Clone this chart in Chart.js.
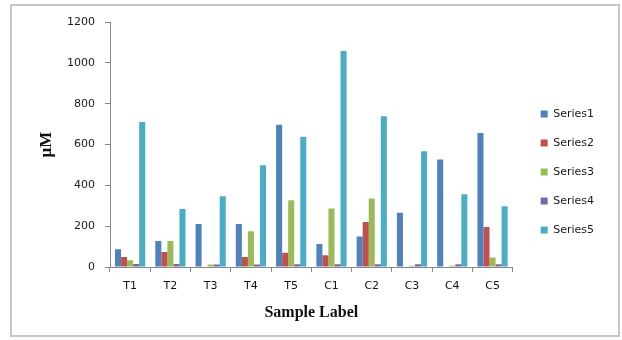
<!DOCTYPE html>
<html>
<head>
<meta charset="utf-8">
<script src="https://cdn.jsdelivr.net/npm/chart.js@4.4.1/dist/chart.umd.min.js"></script>
<style>
  html, body { margin: 0; padding: 0; background: #fff; }
  #wrap { position: relative; width: 622px; height: 340px; }
  #frame { position: absolute; left: 10px; top: 4px; width: 606px; height: 329px;
           border: 2px solid #c6c6c6; pointer-events: none; }
  canvas { position: absolute; left: 0; top: 0; }
</style>
</head>
<body>
<div id="wrap">
  <div id="frame"></div>
  <canvas id="c" width="622" height="340"></canvas>
</div>
<script>
const categories = ['T1', 'T2', 'T3', 'T4', 'T5', 'C1', 'C2', 'C3', 'C4', 'C5'];
const seriesNames = ['Series1', 'Series2', 'Series3', 'Series4', 'Series5'];
const series1 = [87, 127, 211, 211, 697, 113, 149, 266, 527, 656];
const series2 = [49, 73, 0, 49, 70, 57, 220, 0, 0, 196];
const series3 = [33, 127, 12, 175, 327, 287, 336, 6, 6, 47];
const series4 = [15, 15, 12, 12, 13, 13, 13, 13, 13, 13];
const series5 = [710, 284, 346, 498, 638, 1058, 738, 567, 356, 297];
const yTicks = [0, 200, 400, 600, 800, 1000, 1200];
const colors = ['#4F81BD', '#C0504D', '#9BBB59', '#8064A2', '#4BACC6'];

const allSeries = [series1, series2, series3, series4, series5];

new Chart(document.getElementById('c'), {
  type: 'bar',
  data: {
    labels: categories,
    datasets: allSeries.map((d, i) => ({
      label: seriesNames[i],
      data: d,
      backgroundColor: colors[i],
      borderWidth: 0,
      categoryPercentage: 0.75,
      barPercentage: 1.0
    }))
  },
  options: {
    responsive: false,
    animation: false,
    layout: { padding: { left: 0, right: 18, top: 22, bottom: 18 } },
    plugins: {
      tooltip: { enabled: false },
      legend: {
        position: 'right',
        align: 'center',
        labels: {
          boxWidth: 7,
          boxHeight: 7,
          padding: 18,
          color: '#1a1a1a',
          font: { family: 'DejaVu Sans', size: 11 }
        }
      }
    },
    scales: {
      x: {
        grid: { display: true, drawOnChartArea: false, tickLength: 5, color: '#888', offset: true },
        border: { display: true, color: '#888', width: 1 },
        ticks: { color: '#111', padding: 8, font: { family: 'DejaVu Sans', size: 11 } },
        title: { display: true, text: 'Sample Label', color: '#111',
                 font: { family: 'Liberation Serif', size: 16, weight: 'bold' },
                 padding: { top: 0, bottom: 0 } },
        afterFit(s) { s.height = 55; }
      },
      y: {
        min: 0, max: 1200,
        afterBuildTicks(s) { s.ticks = yTicks.map(v => ({ value: v })); },
        grid: { display: true, drawOnChartArea: false, tickLength: 5, color: '#888' },
        border: { display: true, color: '#888', width: 1 },
        ticks: { color: '#1a1a1a', padding: 10, font: { family: 'DejaVu Sans', size: 11 },
                 callback: (v) => String(v) },
        title: { display: true, text: 'µM', color: '#111',
                 font: { family: 'Liberation Serif', size: 17, weight: 'bold' },
                 padding: { top: 36, bottom: 0 } },
        afterFit(s) { s.width = 110; }
      },
      gap: {
        type: 'linear',
        position: 'right',
        display: true,
        grid: { display: false },
        border: { display: false },
        ticks: { display: false },
        afterFit(s) { s.width = 10; }
      }
    }
  }
});
</script>
</body>
</html>
